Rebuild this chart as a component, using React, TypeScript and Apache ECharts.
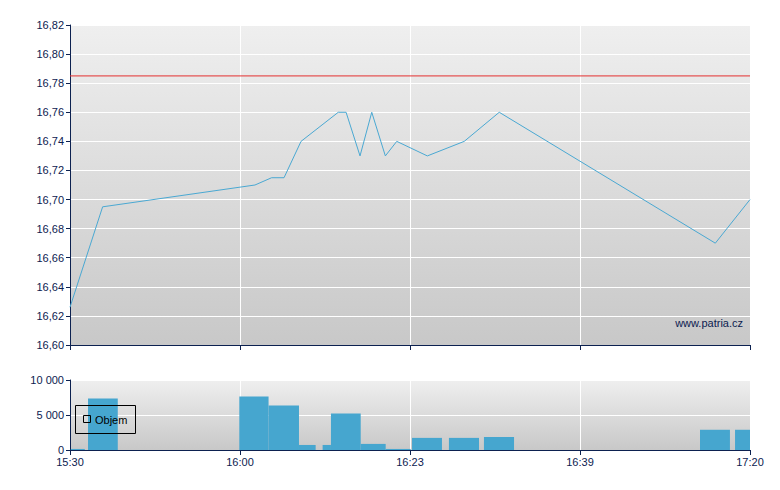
import React, { useEffect, useRef } from "react";
import * as echarts from "echarts";

// Tick labels of the (trade-index based) time axis
const timeLabels = ["15:30", "16:00", "16:23", "16:39", "17:20"];

// Price line: position on the index axis and price
const tradePos = [0, 0.192, 1.088, 1.186, 1.259, 1.359, 1.578, 1.624, 1.706, 1.775, 1.855, 1.922, 2.102, 2.319, 2.525, 3.796, 4.0];
const prices = [16.626, 16.695, 16.71, 16.715, 16.715, 16.74, 16.76, 16.76, 16.73, 16.76, 16.73, 16.74, 16.73, 16.74, 16.76, 16.67, 16.70];

// Reference (previous close) level
const refPrice = 16.785;

// Volume bars: start, end on the index axis, and volume
const volStart = [0.005, 0.106, 0.996, 1.168, 1.347, 1.486, 1.535, 1.71, 1.857, 2.012, 2.229, 2.435, 3.706, 3.912];
const volEnd = [0.087, 0.281, 1.168, 1.347, 1.445, 1.535, 1.71, 1.857, 2.004, 2.188, 2.406, 2.612, 3.882, 4.0];
const volumes = [150, 7350, 7650, 6350, 720, 720, 5200, 870, 150, 1730, 1730, 1850, 2890, 2890];

const NAVY = "#0c2150";
const FONT = "Liberation Sans, Arial, sans-serif";

export default function App() {
  const ref = useRef<HTMLDivElement>(null);

  useEffect(() => {
    document.body.style.margin = "0";
    if (!ref.current) return;
    const chart = echarts.init(ref.current, null, { renderer: "svg" });

    const bg = () =>
      new echarts.graphic.LinearGradient(0, 0, 0, 1, [
        { offset: 0, color: "#efefef" },
        { offset: 1, color: "#c8c8c8" },
      ]);

    const axisLine = { show: true, lineStyle: { color: NAVY, width: 1 } };
    const axisTick = { show: true, length: 4, lineStyle: { color: NAVY } };
    const splitLine = { show: true, lineStyle: { color: "#ffffff", width: 1 } };
    const labelStyle = { color: NAVY, fontSize: 11, fontFamily: FONT };

    const option: any = {
      animation: false,
      textStyle: { fontFamily: FONT },
      grid: [
        { left: 70, top: 25, width: 680, height: 320, show: true, backgroundColor: bg(), borderWidth: 0 },
        { left: 70, top: 380, width: 680, height: 70, show: true, backgroundColor: bg(), borderWidth: 0 },
      ],
      xAxis: [
        {
          type: "value", gridIndex: 0, min: 0, max: 4, interval: 1,
          axisLine, axisTick: { ...axisTick, length: 5 }, splitLine,
          axisLabel: { show: false },
        },
        {
          type: "value", gridIndex: 1, min: 0, max: 4, interval: 1,
          axisLine, axisTick: { ...axisTick, length: 5 }, splitLine,
          axisLabel: { ...labelStyle, margin: 6, formatter: (v: number) => timeLabels[Math.round(v)] ?? "" },
        },
      ],
      yAxis: [
        {
          type: "value", gridIndex: 0, min: 16.6, max: 16.82, interval: 0.02,
          axisLine, axisTick, splitLine,
          axisLabel: { ...labelStyle, margin: 6, formatter: (v: number) => v.toFixed(2).replace(".", ",") },
        },
        {
          type: "value", gridIndex: 1, min: 0, max: 10000, interval: 5000,
          axisLine, axisTick, splitLine,
          axisLabel: {
            ...labelStyle, margin: 6,
            formatter: (v: number) => String(Math.round(v)).replace(/\B(?=(\d{3})+(?!\d))/g, " "),
          },
        },
      ],
      series: [
        {
          type: "line",
          name: "ref",
          xAxisIndex: 0, yAxisIndex: 0,
          data: [[0, refPrice], [4, refPrice]],
          symbol: "none",
          silent: true,
          lineStyle: { color: "#e53030", width: 1 },
          z: 2,
        },
        {
          type: "line",
          xAxisIndex: 0, yAxisIndex: 0,
          data: tradePos.map((x, i) => [x, prices[i]]),
          symbol: "none",
          lineStyle: { color: "#4aa8d2", width: 1 },
          z: 3,
        },
        {
          type: "custom",
          name: "Objem",
          xAxisIndex: 1, yAxisIndex: 1,
          data: volStart.map((s, i) => [s, volEnd[i], volumes[i]]),
          encode: { x: [0, 1], y: 2 },
          renderItem: (params: any, api: any) => {
            const p0 = api.coord([api.value(0), api.value(2)]);
            const p1 = api.coord([api.value(1), 0]);
            return {
              type: "rect",
              shape: { x: p0[0], y: p0[1], width: p1[0] - p0[0], height: p1[1] - p0[1] },
              style: { fill: "#46a6cf" },
            };
          },
          z: 2,
        },
      ],
      graphic: [
        {
          type: "text",
          x: 743,
          y: 323,
          style: { text: "www.patria.cz", fill: NAVY, font: `11px ${FONT}`, align: "right", verticalAlign: "middle" },
          z: 10,
        },
        {
          type: "rect",
          shape: { x: 75.5, y: 405.5, width: 60, height: 28 },
          style: { fill: "none", stroke: "#000", lineWidth: 1 },
          z: 10,
        },
        {
          type: "rect",
          shape: { x: 83.5, y: 415.5, width: 7, height: 7 },
          style: { fill: "none", stroke: "#000", lineWidth: 1 },
          z: 10,
        },
        {
          type: "text",
          x: 95,
          y: 420,
          style: { text: "Objem", fill: "#000", font: `11px ${FONT}`, align: "left", verticalAlign: "middle" },
          z: 10,
        },
      ],
    };

    chart.setOption(option);
    return () => chart.dispose();
  }, []);

  return <div ref={ref} style={{ width: 780, height: 490 }} />;
}
